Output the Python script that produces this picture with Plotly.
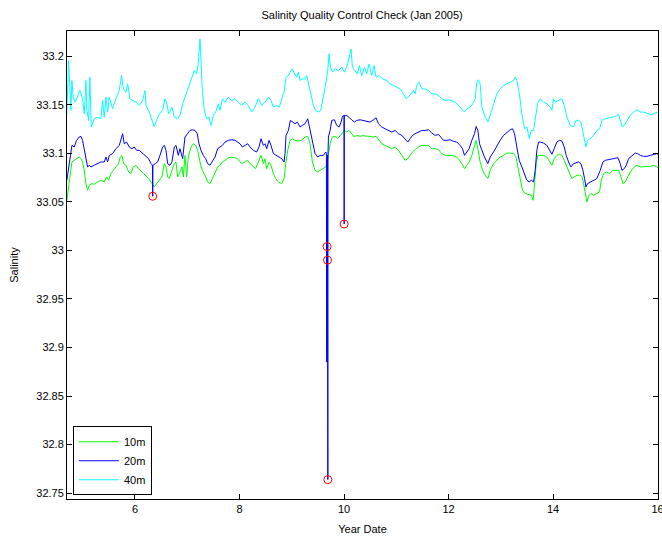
import plotly.graph_objects as go

# ---------------------------------------------------------------
# Mooring salinity, January 2005 (year-day vs practical salinity)
# ---------------------------------------------------------------

depth_names = ["10m", "20m", "40m"]

# 10 m sensor
day_10m = [
    4.698, 4.730, 4.755, 4.794, 4.839, 4.883, 4.934, 4.966, 4.998, 5.030, 5.062, 5.094,
    5.126, 5.177, 5.221, 5.285, 5.349, 5.413, 5.457, 5.496, 5.540, 5.585, 5.636, 5.687,
    5.719, 5.751, 5.783, 5.828, 5.879, 5.923, 5.968, 6.019, 6.070, 6.134, 6.198, 6.262,
    6.325, 6.370, 6.415, 6.466, 6.517, 6.562, 6.594, 6.626, 6.657, 6.708, 6.753, 6.785,
    6.817, 6.849, 6.900, 6.925,
    6.957, 6.989, 7.021, 7.072, 7.117, 7.162, 7.200, 7.245, 7.289, 7.340, 7.391, 7.436,
    7.481, 7.532, 7.583, 7.627, 7.672, 7.723, 7.787, 7.851, 7.915, 7.966, 8.010, 8.055,
    8.106, 8.157, 8.202, 8.266, 8.310, 8.361, 8.412, 8.457, 8.489, 8.521, 8.566, 8.604,
    8.649, 8.693, 8.744, 8.808, 8.853, 8.885, 8.923, 8.968, 9.012, 9.063, 9.127, 9.191,
    9.255, 9.306, 9.351, 9.395, 9.446, 9.497, 9.542, 9.606, 9.651, 9.676, 9.702, 9.734,
    9.778, 9.829, 9.880, 9.925, 9.970, 10.008, 10.053, 10.097, 10.148, 10.199, 10.244, 10.308,
    10.372, 10.436, 10.499, 10.563, 10.614, 10.659, 10.723, 10.787, 10.850, 10.914, 10.978, 11.042,
    11.106, 11.169, 11.221, 11.265, 11.310, 11.361, 11.425, 11.489,
    11.552, 11.616, 11.680, 11.744, 11.808, 11.872, 11.935, 11.999, 12.063, 12.127, 12.191, 12.254,
    12.305, 12.350, 12.395, 12.446, 12.497, 12.529, 12.561, 12.605, 12.650, 12.701, 12.752, 12.797,
    12.861, 12.925, 12.988, 13.052, 13.116, 13.180, 13.244, 13.288, 13.327, 13.371, 13.416, 13.467,
    13.531, 13.582, 13.620, 13.646, 13.678, 13.710,
    13.754, 13.818, 13.882, 13.933, 13.978, 14.022, 14.073, 14.124, 14.169, 14.214, 14.265, 14.316,
    14.360, 14.405, 14.456, 14.507, 14.552, 14.584, 14.616, 14.648, 14.686, 14.724, 14.775, 14.839,
    14.890, 14.922, 14.967, 15.018, 15.082, 15.145, 15.209, 15.260, 15.299, 15.337, 15.382, 15.426,
    15.477, 15.541, 15.605, 15.669, 15.733, 15.796, 15.860, 15.924, 15.988, 16.052,
]
sal_10m = [
    33.0517, 33.0654, 33.0791, 33.0911, 33.0928, 33.0945, 33.0962, 33.0945, 33.0911, 33.0825, 33.0688, 33.0620,
    33.0671, 33.0688, 33.0681, 33.0705, 33.0723, 33.0705, 33.0757, 33.0723, 33.0791, 33.0825, 33.0860, 33.0894,
    33.0962, 33.0979, 33.0894, 33.0877, 33.0808, 33.0791, 33.0860, 33.0877, 33.0842, 33.0808, 33.0774, 33.0740,
    33.0688, 33.0654, 33.0688, 33.0723, 33.0757, 33.0894, 33.0860, 33.0757, 33.0740, 33.0825, 33.0894, 33.0911,
    33.0757, 33.0791, 33.0860, 33.0757,
    33.0979, 33.0757, 33.0962, 33.1065, 33.1099, 33.1082, 33.1031, 33.0911, 33.0825, 33.0774, 33.0705, 33.0688,
    33.0740, 33.0808, 33.0860, 33.0877, 33.0911, 33.0928, 33.0955, 33.0962, 33.0955, 33.0945, 33.0911, 33.0894,
    33.0911, 33.0928, 33.0894, 33.0860, 33.0842, 33.0911, 33.0979, 33.0894, 33.0945, 33.0842, 33.0911, 33.0877,
    33.0791, 33.0740, 33.0705, 33.0688, 33.0740, 33.0894, 33.1031, 33.1134, 33.1151, 33.1134, 33.1127, 33.1134,
    33.1168, 33.1175, 33.1099, 33.0911, 33.0825, 33.0808, 33.0825, 33.0842, 33.0860, 33.0894, 33.0997, 33.1099,
    33.1168, 33.1175, 33.1151, 33.1185, 33.1219, 33.1236, 33.1219, 33.1236, 33.1202, 33.1168, 33.1185, 33.1175,
    33.1185, 33.1175, 33.1175, 33.1168, 33.1175, 33.1140, 33.1099, 33.1082, 33.1065, 33.1048, 33.1065, 33.1031,
    33.0979, 33.0928, 33.0945, 33.0979, 33.1014, 33.1038, 33.1065, 33.1082,
    33.1082, 33.1082, 33.1048, 33.1048, 33.1038, 33.0997, 33.0979, 33.0979, 33.0979, 33.0969, 33.0945, 33.0894,
    33.0842, 33.0877, 33.0911, 33.0979, 33.1082, 33.1134, 33.1048, 33.0911, 33.0825, 33.0774, 33.0740, 33.0825,
    33.0894, 33.0928, 33.0962, 33.0979, 33.1003, 33.1003, 33.0997, 33.0969, 33.0860, 33.0723, 33.0620, 33.0586,
    33.0579, 33.0568, 33.0517, 33.0654, 33.0894, 33.0979,
    33.0979, 33.0979, 33.0962, 33.0911, 33.0877, 33.0945, 33.0979, 33.0990, 33.0979, 33.0928, 33.0860, 33.0791,
    33.0740, 33.0757, 33.0774, 33.0774, 33.0764, 33.0688, 33.0586, 33.0500, 33.0568, 33.0586, 33.0568, 33.0586,
    33.0603, 33.0723, 33.0791, 33.0808, 33.0791, 33.0825, 33.0825, 33.0825, 33.0757, 33.0688, 33.0705, 33.0757,
    33.0808, 33.0853, 33.0877, 33.0860, 33.0860, 33.0860, 33.0866, 33.0877, 33.0860, 33.0825,
]

# 20 m sensor (includes the spikes flagged by the QC check)
day_20m = [
    4.698, 4.730, 4.755, 4.794, 4.839, 4.883, 4.934, 4.966, 4.998, 5.030, 5.062, 5.094,
    5.126, 5.158, 5.221, 5.285, 5.349, 5.413, 5.445, 5.477, 5.509, 5.572, 5.636, 5.700,
    5.732, 5.764, 5.796, 5.840, 5.891, 5.943, 5.987, 6.032, 6.083, 6.147, 6.211, 6.262,
    6.306, 6.336, 6.340, 6.344, 6.389, 6.434, 6.479, 6.530, 6.562, 6.594, 6.626, 6.670,
    6.708, 6.753, 6.785, 6.830, 6.861, 6.913,
    6.957, 7.008, 7.053, 7.098, 7.149, 7.193, 7.225, 7.264, 7.308, 7.353, 7.391, 7.436,
    7.481, 7.532, 7.583, 7.627, 7.672, 7.723, 7.787, 7.851, 7.915, 7.966, 8.010, 8.055,
    8.106, 8.157, 8.202, 8.266, 8.329, 8.374, 8.412, 8.457, 8.489, 8.521, 8.566, 8.604,
    8.649, 8.712, 8.757, 8.808, 8.853, 8.872, 8.891, 8.936, 8.974, 9.012, 9.063, 9.108,
    9.159, 9.204,
    9.255, 9.306, 9.351, 9.395, 9.446, 9.497, 9.542, 9.606, 9.651, 9.664, 9.667, 9.670,
    9.673, 9.676, 9.679, 9.682, 9.685, 9.688, 9.691, 9.694, 9.702, 9.734, 9.766, 9.817,
    9.861, 9.906, 9.944, 9.970, 10.000, 10.003, 10.006, 10.053, 10.097, 10.148, 10.199, 10.244,
    10.308, 10.372, 10.436, 10.499, 10.563, 10.614, 10.659, 10.723, 10.787, 10.850, 10.914, 10.978,
    11.042, 11.106, 11.169, 11.221, 11.265, 11.310, 11.361, 11.425, 11.489,
    11.552, 11.616, 11.680, 11.744, 11.808, 11.859, 11.903, 11.967, 12.031, 12.095, 12.159, 12.222,
    12.267, 12.305, 12.350, 12.395, 12.446, 12.497, 12.529, 12.561, 12.593, 12.637, 12.688, 12.752,
    12.797, 12.861, 12.925, 12.988, 13.052, 13.116, 13.180, 13.225, 13.263, 13.307, 13.352, 13.403,
    13.454, 13.499, 13.544, 13.582, 13.627, 13.658, 13.690, 13.722,
    13.754, 13.818, 13.882, 13.933, 13.978, 14.022, 14.073, 14.124, 14.169, 14.214, 14.252, 14.297,
    14.341, 14.392, 14.443, 14.488, 14.533, 14.571, 14.603, 14.629, 14.660, 14.711, 14.775, 14.839,
    14.903, 14.954, 14.999, 15.063, 15.126, 15.190, 15.241, 15.286, 15.318, 15.362, 15.401, 15.445,
    15.509, 15.573, 15.618, 15.669, 15.733, 15.796, 15.860, 15.924, 15.988, 16.052,
]
sal_20m = [
    33.0723, 33.0860, 33.0945, 33.1082, 33.1065, 33.1134, 33.1168, 33.1175, 33.1134, 33.1048, 33.0928, 33.0860,
    33.0877, 33.0860, 33.0877, 33.0894, 33.0911, 33.0911, 33.0962, 33.0911, 33.0979, 33.0997, 33.1048, 33.1082,
    33.1134, 33.1202, 33.1099, 33.1116, 33.1065, 33.1048, 33.1065, 33.1031, 33.1031, 33.0997, 33.0962, 33.0945,
    33.0894, 33.0877, 33.0558, 33.0877, 33.0894, 33.0911, 33.0979, 33.1065, 33.1082, 33.1031, 33.0894, 33.0877,
    33.0911, 33.1065, 33.1082, 33.0979, 33.1048, 33.0945,
    33.1168, 33.1202, 33.1236, 33.1243, 33.1236, 33.1202, 33.1099, 33.1031, 33.0979, 33.0945, 33.0894, 33.0877,
    33.0911, 33.0962, 33.1048, 33.1065, 33.1082, 33.1116, 33.1134, 33.1140, 33.1134, 33.1116, 33.1099, 33.1065,
    33.1082, 33.1099, 33.1065, 33.1031, 33.1014, 33.1065, 33.1151, 33.1082, 33.1099, 33.1048, 33.1134, 33.1082,
    33.0997, 33.0979, 33.0962, 33.0945, 33.0911, 33.0997, 33.1185, 33.1236, 33.1339, 33.1322, 33.1305, 33.1322,
    33.1271, 33.1288,
    33.1305, 33.1356, 33.1236, 33.1099, 33.0997, 33.0962, 33.0979, 33.0979, 33.1014, 33.1000, 32.8850, 33.0990,
    32.8860, 33.0040, 32.8870, 33.0980, 32.9900, 32.8860, 32.7640, 33.0990, 33.1168, 33.1236, 33.1339, 33.1346,
    33.1288, 33.1271, 33.1322, 33.1380, 33.1390, 33.0272, 33.1390, 33.1390, 33.1373, 33.1346, 33.1322, 33.1339,
    33.1346, 33.1339, 33.1332, 33.1322, 33.1346, 33.1366, 33.1305, 33.1271, 33.1253, 33.1236, 33.1219, 33.1236,
    33.1202, 33.1185, 33.1151, 33.1116, 33.1151, 33.1185, 33.1202, 33.1219, 33.1236,
    33.1236, 33.1243, 33.1209, 33.1185, 33.1195, 33.1168, 33.1134, 33.1134, 33.1140, 33.1123, 33.1116, 33.1082,
    33.1048, 33.0979, 33.1014, 33.1048, 33.1134, 33.1202, 33.1277, 33.1236, 33.1099, 33.1031, 33.0962, 33.0894,
    33.0962, 33.1014, 33.1082, 33.1134, 33.1185, 33.1219, 33.1243, 33.1253, 33.1202, 33.1065, 33.0928, 33.0860,
    33.0791, 33.0723, 33.0705, 33.0723, 33.0705, 33.0825, 33.1031, 33.1116,
    33.1116, 33.1106, 33.1082, 33.1031, 33.0990, 33.1048, 33.1116, 33.1134, 33.1127, 33.1065, 33.0979, 33.0911,
    33.0860, 33.0894, 33.0901, 33.0911, 33.0894, 33.0825, 33.0740, 33.0654, 33.0688, 33.0705, 33.0723, 33.0740,
    33.0825, 33.0911, 33.0928, 33.0935, 33.0945, 33.0945, 33.0955, 33.0894, 33.0825, 33.0842, 33.0877, 33.0945,
    33.0979, 33.1003, 33.0997, 33.0979, 33.0969, 33.0969, 33.0979, 33.0990, 33.0997, 33.0979,
]

# 40 m sensor
day_40m = [
    4.698, 4.730, 4.755, 4.775, 4.794, 4.819, 4.858, 4.902, 4.947, 4.998, 5.030, 5.062,
    5.081, 5.113, 5.138, 5.164, 5.221, 5.285, 5.349, 5.381, 5.413, 5.445, 5.477, 5.509,
    5.572, 5.636, 5.700, 5.745, 5.777, 5.828, 5.860, 5.904, 5.955, 6.019, 6.083, 6.147,
    6.191, 6.211, 6.274, 6.325, 6.370, 6.415, 6.466, 6.530, 6.574, 6.606, 6.645, 6.708,
    6.753, 6.817, 6.861, 6.913,
    6.957, 7.021, 7.085, 7.136, 7.181, 7.213, 7.245, 7.264, 7.289, 7.327, 7.372, 7.417,
    7.455, 7.500, 7.545, 7.596, 7.628, 7.672, 7.723, 7.787, 7.851, 7.915, 7.978, 8.042,
    8.106, 8.170, 8.234, 8.297, 8.361, 8.425, 8.489, 8.553, 8.604, 8.649, 8.712, 8.763,
    8.808, 8.853, 8.891, 8.936, 8.968, 9.012, 9.051, 9.095, 9.127, 9.159, 9.204,
    9.255, 9.287, 9.319, 9.351, 9.383, 9.415, 9.459, 9.510, 9.555, 9.606, 9.651, 9.689,
    9.714, 9.740, 9.778, 9.829, 9.893, 9.957, 10.008, 10.053, 10.097, 10.136, 10.161, 10.212,
    10.257, 10.295, 10.340, 10.391, 10.436, 10.480, 10.531, 10.576, 10.614, 10.672, 10.736, 10.818,
    10.882, 10.946, 11.010, 11.074, 11.138, 11.189, 11.233, 11.284, 11.329, 11.361, 11.393, 11.437,
    11.489,
    11.552, 11.616, 11.680, 11.744, 11.808, 11.872, 11.935, 11.999, 12.063, 12.127, 12.191, 12.254,
    12.305, 12.350, 12.414, 12.465, 12.510, 12.542, 12.573, 12.605, 12.637, 12.701, 12.752, 12.797,
    12.861, 12.925, 12.988, 13.052, 13.116, 13.180, 13.244, 13.276, 13.307, 13.352, 13.403, 13.454,
    13.499, 13.544, 13.582, 13.627, 13.658, 13.703,
    13.754, 13.818, 13.882, 13.946, 13.978, 14.009, 14.041, 14.105, 14.169, 14.214, 14.265, 14.329,
    14.392, 14.437, 14.488, 14.533, 14.584, 14.629, 14.660, 14.711, 14.775, 14.839, 14.890, 14.935,
    14.999, 15.063, 15.126, 15.190, 15.254, 15.286, 15.324, 15.362, 15.413, 15.477, 15.541, 15.605,
    15.669, 15.733, 15.796, 15.860, 15.924, 15.988, 16.052,
]
sal_40m = [
    33.1407, 33.1955, 33.1681, 33.1442, 33.1750, 33.1579, 33.1527, 33.1596, 33.1647, 33.1562, 33.1407, 33.1750,
    33.1442, 33.1339, 33.1784, 33.1271, 33.1356, 33.1373, 33.1356, 33.1544, 33.1373, 33.1579, 33.1425, 33.1579,
    33.1459, 33.1562, 33.1647, 33.1801, 33.1664, 33.1630, 33.1716, 33.1562, 33.1544, 33.1527, 33.1493, 33.1544,
    33.1647, 33.1493, 33.1425, 33.1339, 33.1271, 33.1339, 33.1407, 33.1442, 33.1562, 33.1527, 33.1407, 33.1476,
    33.1373, 33.1356, 33.1390, 33.1510,
    33.1579, 33.1681, 33.1784, 33.1853, 33.1818, 33.1938, 33.2178, 33.1887, 33.1647, 33.1442, 33.1356, 33.1373,
    33.1288, 33.1390, 33.1425, 33.1510, 33.1442, 33.1562, 33.1527, 33.1579, 33.1544, 33.1562, 33.1527, 33.1493,
    33.1527, 33.1493, 33.1425, 33.1476, 33.1562, 33.1493, 33.1527, 33.1579, 33.1544, 33.1476, 33.1493, 33.1476,
    33.1562, 33.1630, 33.1784, 33.1801, 33.1836, 33.1870, 33.1818, 33.1784, 33.1836, 33.1750, 33.1767,
    33.1767, 33.1801, 33.1716, 33.1664, 33.1579, 33.1493, 33.1442, 33.1425, 33.1442, 33.1579, 33.1716, 33.1853,
    33.2024, 33.1887, 33.1836, 33.1870, 33.1853, 33.1887, 33.1836, 33.1887, 33.1990, 33.2075, 33.1887, 33.1853,
    33.1818, 33.1904, 33.1801, 33.1887, 33.1818, 33.1921, 33.1801, 33.1904, 33.1784, 33.1801, 33.1767, 33.1750,
    33.1716, 33.1699, 33.1681, 33.1664, 33.1613, 33.1562, 33.1579, 33.1613, 33.1647, 33.1613, 33.1699, 33.1733,
    33.1664,
    33.1664, 33.1647, 33.1613, 33.1613, 33.1596, 33.1562, 33.1544, 33.1551, 33.1544, 33.1527, 33.1493, 33.1459,
    33.1425, 33.1459, 33.1476, 33.1510, 33.1562, 33.1733, 33.1757, 33.1716, 33.1476, 33.1373, 33.1322, 33.1390,
    33.1510, 33.1613, 33.1664, 33.1699, 33.1716, 33.1733, 33.1750, 33.1784, 33.1750, 33.1630, 33.1407, 33.1253,
    33.1271, 33.1151, 33.1236, 33.1236, 33.1339, 33.1510,
    33.1562, 33.1527, 33.1510, 33.1476, 33.1442, 33.1562, 33.1527, 33.1544, 33.1562, 33.1493, 33.1373, 33.1288,
    33.1271, 33.1339, 33.1339, 33.1322, 33.1202, 33.1065, 33.1134, 33.1151, 33.1185, 33.1236, 33.1253, 33.1339,
    33.1356, 33.1366, 33.1373, 33.1380, 33.1401, 33.1339, 33.1271, 33.1288, 33.1339, 33.1390, 33.1425, 33.1449,
    33.1425, 33.1425, 33.1414, 33.1401, 33.1407, 33.1425, 33.1401,
]

# Samples flagged by the quality-control check
qc_day = [6.340, 9.676, 9.685, 9.691, 10.003]
qc_sal = [33.0558, 33.0040, 32.9900, 32.7640, 33.0272]

# Axis ticks
x_ticks = [6, 8, 10, 12, 14, 16]
y_ticks = [32.75, 32.8, 32.85, 32.9, 32.95, 33.0, 33.05, 33.1, 33.15, 33.2]
y_tick_text = ["32.75", "32.8", "32.85", "32.9", "32.95", "33", "33.05", "33.1", "33.15", "33.2"]

FONT = "Liberation Sans, Arial, Helvetica, sans-serif"
line_colors = ["#00ff00", "#0000ff", "#00ffff"]
series = [(day_10m, sal_10m), (day_20m, sal_20m), (day_40m, sal_40m)]

fig = go.Figure()
for name, color, (d, s) in zip(depth_names, line_colors, series):
    fig.add_trace(go.Scatter(
        x=d, y=s, mode="lines", name=name,
        line=dict(color=color, width=1),
    ))

fig.add_trace(go.Scatter(
    x=qc_day, y=qc_sal, mode="markers", showlegend=False,
    marker=dict(symbol="circle-open", size=8, color="#ff0000", line=dict(width=1, color="#ff0000")),
))

axis_common = dict(
    showline=True, linecolor="black", linewidth=1, mirror="ticks",
    ticks="inside", ticklen=5, tickcolor="black", tickwidth=1,
    showgrid=False, zeroline=False, ticklabeloverflow="allow", automargin=False,
    tickfont=dict(family=FONT, size=11, color="black"),
    title_font=dict(family=FONT, size=11, color="black"),
)

fig.update_layout(
    width=662, height=536,
    margin=dict(l=67, r=4, t=31, b=37, autoexpand=False),
    paper_bgcolor="white", plot_bgcolor="white",
    title=dict(text="Salinity Quality Control Check (Jan 2005)", x=0.547, xanchor="center",
               y=0.972, yanchor="middle", font=dict(family=FONT, size=11, color="black")),
    xaxis=dict(range=[4.70, 16.008], tickvals=x_ticks, title=dict(text="Year Date", standoff=11), **axis_common),
    yaxis=dict(range=[32.744, 33.226], tickvals=y_ticks, ticktext=y_tick_text,
               title=dict(text="Salinity", standoff=15), **axis_common),
    legend=dict(x=0.01, y=0.008, xanchor="left", yanchor="bottom",
                bgcolor="white", bordercolor="black", borderwidth=1,
                font=dict(family=FONT, size=11, color="black"),
                tracegroupgap=0, itemwidth=40),
    showlegend=True,
)

fig.write_html("out.html")
